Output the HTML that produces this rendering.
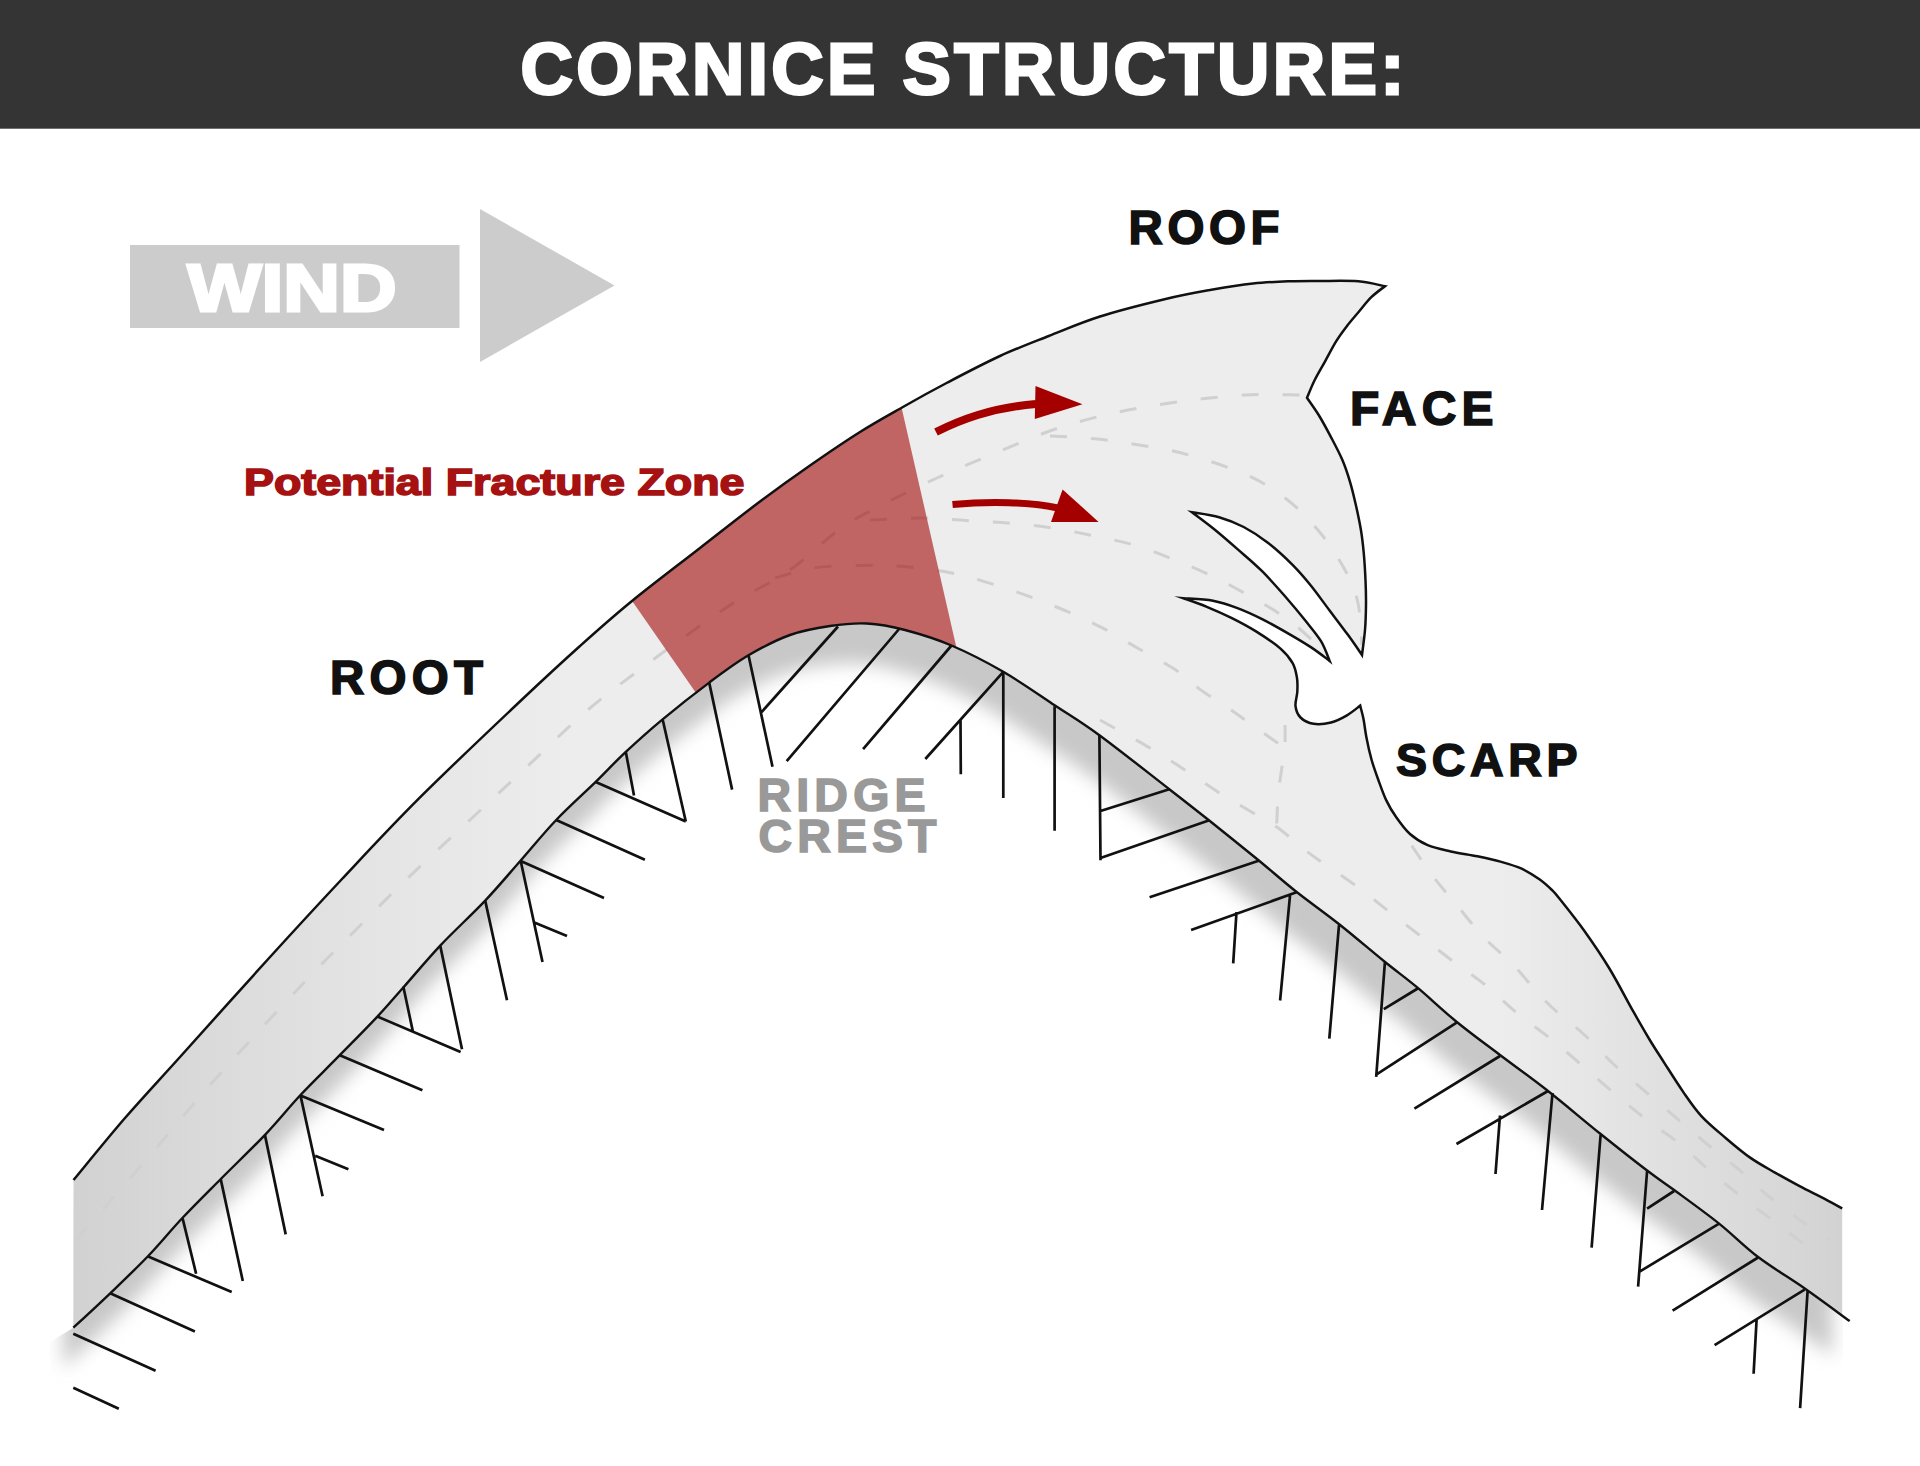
<!DOCTYPE html>
<html><head><meta charset="utf-8"><title>Cornice Structure</title>
<style>html,body{margin:0;padding:0;background:#fff;width:1920px;height:1466px;overflow:hidden;font-family:"Liberation Sans",sans-serif}svg{display:block}</style>
</head><body>
<svg width="1920" height="1466" viewBox="0 0 1920 1466">
<defs>
<clipPath id="snowclip"><path d="M73.5 1180 C82.1 1169.7 107.2 1138.5 125 1118 C142.8 1097.5 156.3 1083.3 180 1057 C203.7 1030.7 240.3 989.7 267.3 960 C294.3 930.3 316.6 906.1 342 879 C367.4 851.9 390.1 827.2 420 797.4 C449.9 767.6 494.8 725.2 521.5 700 C548.2 674.8 561.6 662.5 580 646 C598.4 629.5 612 617.3 632 601 C652 584.7 678.7 564.6 700 548 C721.3 531.4 741.7 515.2 760 501.5 C778.3 487.8 793.3 477.1 810 465.5 C826.7 453.9 844.4 441.8 860 432 C875.6 422.2 889.2 414.8 903.8 406.5 C918.3 398.2 931.5 390.9 947.5 382.5 C963.5 374.1 983.1 363.8 1000 356 C1016.9 348.2 1032 342.6 1048.7 336 C1065.4 329.4 1080.5 322.7 1100 316.5 C1119.5 310.3 1147.3 303.4 1165.6 299 C1183.9 294.6 1195.4 292.6 1210 290 C1224.6 287.4 1239.7 284.9 1253 283.5 C1266.3 282.1 1279 281.7 1290 281.3 C1301 280.9 1307.4 281 1318.8 281 C1330.2 281 1347.2 280.4 1358.2 281.3 C1369.2 282.2 1380.5 285.4 1385 286.2 C1382.7 288 1375.8 292.8 1371.3 297.2 C1366.8 301.6 1362.2 307.8 1358.2 312.5 C1354.2 317.2 1350.9 320.9 1347.3 325.6 C1343.7 330.3 1340 335.1 1336.4 340.9 C1332.8 346.7 1329.1 354 1325.5 360.6 C1321.9 367.2 1317.7 374.1 1314.6 380.3 C1311.5 386.5 1308.3 394.9 1307 397.8 C1309 400.8 1315.1 409.1 1319 415.5 C1322.9 421.9 1326.7 429 1330.6 436.4 C1334.5 443.8 1338.9 451.9 1342.2 459.6 C1345.5 467.3 1348 475.1 1350.3 482.8 C1352.6 490.5 1354.3 498.3 1356.1 506 C1357.8 513.7 1359.5 521.5 1360.8 529.2 C1362.1 536.9 1362.9 543.9 1363.7 552.4 C1364.5 560.9 1365.1 571.2 1365.5 580 C1365.9 588.8 1366.1 596.7 1366 605 C1365.9 613.3 1365.7 621.7 1365 630 C1364.3 638.3 1362.5 650.8 1362 655 C1359.7 651.7 1353.5 642.5 1348.1 635.1 C1342.7 627.7 1335.8 618.7 1329.6 610.5 C1323.4 602.3 1317.3 593.6 1311.2 586 C1305.1 578.4 1300 572.3 1292.8 565.1 C1285.6 557.9 1276.4 549.4 1268.2 543 C1260 536.6 1251.9 531.3 1243.7 527 C1235.5 522.7 1227.7 519.7 1219.1 517.2 C1210.5 514.8 1196.5 513.1 1192 512.3 C1195.5 514.9 1205.4 522.1 1213 528.2 C1220.6 534.3 1229.3 541.9 1237.5 549.1 C1245.7 556.3 1253.9 563 1262.1 571.2 C1270.3 579.4 1279.5 590 1286.7 598.2 C1293.9 606.4 1299.4 613.1 1305.1 620.3 C1310.8 627.5 1316.9 634.4 1321 641.2 C1325.1 648 1328.2 657.6 1329.6 660.9 C1326.5 658.6 1318.3 652.1 1311.2 647.4 C1304.1 642.7 1294.9 637.3 1286.7 632.6 C1278.5 627.9 1270.3 623.2 1262.1 619.1 C1253.9 615 1245.7 611.2 1237.5 608.1 C1229.3 605 1222 602.4 1213 600.7 C1204 599.1 1188.4 598.6 1183.5 598.2 C1187.4 599.6 1198.8 603.5 1206.8 606.8 C1214.8 610.1 1223.2 613.8 1231.4 617.9 C1239.6 622 1247.8 626.3 1256 631.4 C1264.2 636.5 1274.4 643.3 1280.5 648.6 C1286.6 653.9 1290 658.4 1292.8 663.3 C1295.5 668.2 1296.2 673.2 1297 678 C1297.8 682.8 1297.5 687.3 1297.3 692 C1297 696.7 1295 701.8 1295.5 706 C1296 710.2 1297.5 714.5 1300.5 717.5 C1303.5 720.5 1308.4 723 1313.5 723.8 C1318.6 724.6 1325.4 723.9 1331 722.5 C1336.6 721.1 1342.1 718.1 1347 715.3 C1351.9 712.5 1358 707.2 1360.2 705.6 C1360.7 707.8 1362.3 713.2 1363.4 718.6 C1364.5 724 1365.2 731.4 1366.6 738.2 C1367.9 745 1369.6 752.7 1371.5 759.5 C1373.4 766.3 1375.6 772.4 1378.1 779.2 C1380.6 786 1383.3 794.1 1386.3 800.4 C1389.3 806.7 1392.1 811.4 1396.1 817 C1400 822.6 1404.7 829.3 1410 834 C1415.3 838.7 1420.9 842.3 1427.7 845.2 C1434.5 848.1 1442.5 849.6 1450.8 851.5 C1459.1 853.4 1469.1 854.6 1477.4 856.3 C1485.7 858 1493 859.5 1500.4 861.6 C1507.8 863.7 1515.2 865.8 1521.7 868.7 C1528.2 871.7 1534.4 875.8 1539.4 879.3 C1544.4 882.8 1548.5 886.7 1551.9 890 C1555.3 893.3 1554.5 892.4 1560 899.3 C1565.5 906.2 1576.4 919.8 1584.6 931.2 C1592.8 942.7 1600.9 954.5 1609.1 968 C1617.3 981.5 1626.9 1000.2 1633.7 1012.2 C1640.5 1024.2 1644.7 1031.5 1649.8 1040 C1654.9 1048.5 1659.1 1054.7 1664.6 1063.3 C1670.1 1071.9 1676.9 1082.8 1683 1091.6 C1689.1 1100.4 1694.2 1108.3 1701.4 1116.1 C1708.6 1123.9 1717.7 1131.2 1725.9 1138.2 C1734.1 1145.2 1742.3 1152.2 1750.5 1157.9 C1758.7 1163.6 1766.8 1167.9 1775 1172.6 C1783.2 1177.3 1791.4 1181.8 1799.6 1186.1 C1807.8 1190.4 1817.1 1194.9 1824.2 1198.6 C1831.3 1202.3 1839.2 1206.8 1842.2 1208.5 L1842.2 1315.5 C1836.1 1311.1 1819.5 1298.8 1805.5 1289 C1791.5 1279.2 1772.5 1267.9 1758.1 1257 C1743.7 1246.1 1733.1 1234.8 1719.1 1223.6 C1705.1 1212.4 1686.1 1198.8 1674.1 1190 C1662.1 1181.2 1659.3 1179.8 1647.1 1170.5 C1634.8 1161.2 1617.1 1147.2 1600.6 1134 C1584.1 1120.8 1564.8 1104.2 1548 1091 C1531.2 1077.8 1515.2 1066.5 1500 1055 C1484.8 1043.5 1470.3 1033 1456.5 1021.7 C1442.7 1010.4 1429.2 997.4 1417.2 987.4 C1405.2 977.4 1397.4 972 1384.4 961.5 C1371.5 951 1354.2 936.2 1339.5 924.5 C1324.8 912.8 1309.8 902.4 1296 891.5 C1282.2 880.6 1271.6 870.9 1257 859 C1242.4 847.1 1223.2 831.6 1208.6 820 C1194 808.4 1187.5 803.3 1169.3 789.2 C1151.1 775.1 1118.5 749.2 1099.4 735.2 C1080.3 721.2 1070.6 715.8 1054.6 705.2 C1038.6 694.6 1020.5 681.8 1003.3 671.8 C986.1 661.8 967.9 652.5 951.5 645.5 C935.1 638.5 919.1 633.7 905 630 C890.9 626.3 879.5 624.2 867 623.5 C854.5 622.8 842.8 624.1 830 626 C817.2 627.9 803.6 630.1 790 635 C776.4 639.9 762 647.4 748.5 655.3 C735 663.2 723.5 671.9 709.2 682.6 C694.9 693.3 676.5 707.8 662.6 719.3 C648.7 730.8 636.9 741.5 625.8 751.9 C614.6 762.3 607.3 770.5 595.7 781.9 C584.1 793.2 568.7 806.9 556.2 820 C543.7 833.1 532.5 847.1 520.7 860.5 C508.9 873.9 498.6 886.4 485.2 900.6 C471.8 914.8 453.8 931.1 440.2 945.6 C426.6 960.1 413.8 975.7 403.3 987.5 C392.8 999.3 388.2 1005.1 377.4 1016.6 C366.6 1028.1 351.1 1043.6 338.3 1056.7 C325.5 1069.8 312.6 1082.1 300.5 1095 C288.4 1107.9 278.7 1120.4 265.5 1134.3 C252.3 1148.2 235.1 1164.6 221.3 1178.5 C207.5 1192.4 194.8 1204.9 182.6 1217.8 C170.4 1230.7 160.3 1243.4 148.2 1256 C136.1 1268.6 122.7 1281.3 110.2 1293.3 C97.7 1305.2 79.5 1322 73.3 1327.7 Z"/></clipPath>
<clipPath id="rockclip"><path d="M50 1342 L73.3 1327.7 C79.5 1322 97.7 1305.2 110.2 1293.3 C122.7 1281.3 136.1 1268.6 148.2 1256 C160.3 1243.4 170.4 1230.7 182.6 1217.8 C194.8 1204.9 207.5 1192.4 221.3 1178.5 C235.1 1164.6 252.3 1148.2 265.5 1134.3 C278.7 1120.4 288.4 1107.9 300.5 1095 C312.6 1082.1 325.5 1069.8 338.3 1056.7 C351.1 1043.6 366.6 1028.1 377.4 1016.6 C388.2 1005.1 392.8 999.3 403.3 987.5 C413.8 975.7 426.6 960.1 440.2 945.6 C453.8 931.1 471.8 914.8 485.2 900.6 C498.6 886.4 508.9 873.9 520.7 860.5 C532.5 847.1 543.7 833.1 556.2 820 C568.7 806.9 584.1 793.2 595.7 781.9 C607.3 770.5 614.6 762.3 625.8 751.9 C636.9 741.5 648.7 730.8 662.6 719.3 C676.5 707.8 694.9 693.3 709.2 682.6 C723.5 671.9 735 663.2 748.5 655.3 C762 647.4 776.4 639.9 790 635 C803.6 630.1 817.2 627.9 830 626 C842.8 624.1 854.5 622.8 867 623.5 C879.5 624.2 890.9 626.3 905 630 C919.1 633.7 935.1 638.5 951.5 645.5 C967.9 652.5 986.1 661.8 1003.3 671.8 C1020.5 681.8 1038.6 694.6 1054.6 705.2 C1070.6 715.8 1080.3 721.2 1099.4 735.2 C1118.5 749.2 1151.1 775.1 1169.3 789.2 C1187.5 803.3 1194 808.4 1208.6 820 C1223.2 831.6 1242.4 847.1 1257 859 C1271.6 870.9 1282.2 880.6 1296 891.5 C1309.8 902.4 1324.8 912.8 1339.5 924.5 C1354.2 936.2 1371.5 951 1384.4 961.5 C1397.4 972 1405.2 977.4 1417.2 987.4 C1429.2 997.4 1442.7 1010.4 1456.5 1021.7 C1470.3 1033 1484.8 1043.5 1500 1055 C1515.2 1066.5 1531.2 1077.8 1548 1091 C1564.8 1104.2 1584.1 1120.8 1600.6 1134 C1617.1 1147.2 1634.8 1161.2 1647.1 1170.5 C1659.3 1179.8 1662.1 1181.2 1674.1 1190 C1686.1 1198.8 1705.1 1212.4 1719.1 1223.6 C1733.1 1234.8 1743.7 1246.1 1758.1 1257 C1772.5 1267.9 1790.2 1278.3 1805.5 1289 C1820.8 1299.7 1842.3 1315.8 1849.7 1321.1 L1843 1316 L1843 1600 L50 1600 Z"/></clipPath>
<filter id="blur12" x="-10%" y="-10%" width="120%" height="120%"><feGaussianBlur stdDeviation="9"/></filter>
<linearGradient id="snowgrad" x1="0" y1="0" x2="1920" y2="0" gradientUnits="userSpaceOnUse">
<stop offset="0.035" stop-color="#d1d1d1"/>
<stop offset="0.1" stop-color="#d9d9d9"/>
<stop offset="0.2" stop-color="#e5e5e5"/>
<stop offset="0.3" stop-color="#ededed"/>
<stop offset="0.78" stop-color="#ededed"/>
<stop offset="0.86" stop-color="#e1e1e1"/>
<stop offset="0.92" stop-color="#d9d9d9"/>
<stop offset="0.96" stop-color="#d2d2d2"/>
</linearGradient>
</defs>
<rect width="1920" height="1466" fill="#fff"/>
<rect width="1920" height="128.7" fill="#343434"/>
<text x="520.5" y="93.8" font-family="Liberation Sans, sans-serif" font-weight="bold" font-size="72.5" fill="#fff" stroke="#fff" stroke-width="2.8" textLength="884" lengthAdjust="spacing">CORNICE STRUCTURE:</text>
<rect x="130" y="245" width="329.5" height="83" fill="#cccccc"/>
<path d="M480 209 L614.5 285.5 L480 362 Z" fill="#cccccc"/>
<text x="187.5" y="310.5" font-family="Liberation Sans, sans-serif" font-weight="bold" font-size="67" fill="#fff" stroke="#fff" stroke-width="3" textLength="209" lengthAdjust="spacingAndGlyphs">WIND</text>
<g clip-path="url(#rockclip)"><path d="M73.5 1180 C82.1 1169.7 107.2 1138.5 125 1118 C142.8 1097.5 156.3 1083.3 180 1057 C203.7 1030.7 240.3 989.7 267.3 960 C294.3 930.3 316.6 906.1 342 879 C367.4 851.9 390.1 827.2 420 797.4 C449.9 767.6 494.8 725.2 521.5 700 C548.2 674.8 561.6 662.5 580 646 C598.4 629.5 612 617.3 632 601 C652 584.7 678.7 564.6 700 548 C721.3 531.4 741.7 515.2 760 501.5 C778.3 487.8 793.3 477.1 810 465.5 C826.7 453.9 844.4 441.8 860 432 C875.6 422.2 889.2 414.8 903.8 406.5 C918.3 398.2 931.5 390.9 947.5 382.5 C963.5 374.1 983.1 363.8 1000 356 C1016.9 348.2 1032 342.6 1048.7 336 C1065.4 329.4 1080.5 322.7 1100 316.5 C1119.5 310.3 1147.3 303.4 1165.6 299 C1183.9 294.6 1195.4 292.6 1210 290 C1224.6 287.4 1239.7 284.9 1253 283.5 C1266.3 282.1 1279 281.7 1290 281.3 C1301 280.9 1307.4 281 1318.8 281 C1330.2 281 1347.2 280.4 1358.2 281.3 C1369.2 282.2 1380.5 285.4 1385 286.2 C1382.7 288 1375.8 292.8 1371.3 297.2 C1366.8 301.6 1362.2 307.8 1358.2 312.5 C1354.2 317.2 1350.9 320.9 1347.3 325.6 C1343.7 330.3 1340 335.1 1336.4 340.9 C1332.8 346.7 1329.1 354 1325.5 360.6 C1321.9 367.2 1317.7 374.1 1314.6 380.3 C1311.5 386.5 1308.3 394.9 1307 397.8 C1309 400.8 1315.1 409.1 1319 415.5 C1322.9 421.9 1326.7 429 1330.6 436.4 C1334.5 443.8 1338.9 451.9 1342.2 459.6 C1345.5 467.3 1348 475.1 1350.3 482.8 C1352.6 490.5 1354.3 498.3 1356.1 506 C1357.8 513.7 1359.5 521.5 1360.8 529.2 C1362.1 536.9 1362.9 543.9 1363.7 552.4 C1364.5 560.9 1365.1 571.2 1365.5 580 C1365.9 588.8 1366.1 596.7 1366 605 C1365.9 613.3 1365.7 621.7 1365 630 C1364.3 638.3 1362.5 650.8 1362 655 C1359.7 651.7 1353.5 642.5 1348.1 635.1 C1342.7 627.7 1335.8 618.7 1329.6 610.5 C1323.4 602.3 1317.3 593.6 1311.2 586 C1305.1 578.4 1300 572.3 1292.8 565.1 C1285.6 557.9 1276.4 549.4 1268.2 543 C1260 536.6 1251.9 531.3 1243.7 527 C1235.5 522.7 1227.7 519.7 1219.1 517.2 C1210.5 514.8 1196.5 513.1 1192 512.3 C1195.5 514.9 1205.4 522.1 1213 528.2 C1220.6 534.3 1229.3 541.9 1237.5 549.1 C1245.7 556.3 1253.9 563 1262.1 571.2 C1270.3 579.4 1279.5 590 1286.7 598.2 C1293.9 606.4 1299.4 613.1 1305.1 620.3 C1310.8 627.5 1316.9 634.4 1321 641.2 C1325.1 648 1328.2 657.6 1329.6 660.9 C1326.5 658.6 1318.3 652.1 1311.2 647.4 C1304.1 642.7 1294.9 637.3 1286.7 632.6 C1278.5 627.9 1270.3 623.2 1262.1 619.1 C1253.9 615 1245.7 611.2 1237.5 608.1 C1229.3 605 1222 602.4 1213 600.7 C1204 599.1 1188.4 598.6 1183.5 598.2 C1187.4 599.6 1198.8 603.5 1206.8 606.8 C1214.8 610.1 1223.2 613.8 1231.4 617.9 C1239.6 622 1247.8 626.3 1256 631.4 C1264.2 636.5 1274.4 643.3 1280.5 648.6 C1286.6 653.9 1290 658.4 1292.8 663.3 C1295.5 668.2 1296.2 673.2 1297 678 C1297.8 682.8 1297.5 687.3 1297.3 692 C1297 696.7 1295 701.8 1295.5 706 C1296 710.2 1297.5 714.5 1300.5 717.5 C1303.5 720.5 1308.4 723 1313.5 723.8 C1318.6 724.6 1325.4 723.9 1331 722.5 C1336.6 721.1 1342.1 718.1 1347 715.3 C1351.9 712.5 1358 707.2 1360.2 705.6 C1360.7 707.8 1362.3 713.2 1363.4 718.6 C1364.5 724 1365.2 731.4 1366.6 738.2 C1367.9 745 1369.6 752.7 1371.5 759.5 C1373.4 766.3 1375.6 772.4 1378.1 779.2 C1380.6 786 1383.3 794.1 1386.3 800.4 C1389.3 806.7 1392.1 811.4 1396.1 817 C1400 822.6 1404.7 829.3 1410 834 C1415.3 838.7 1420.9 842.3 1427.7 845.2 C1434.5 848.1 1442.5 849.6 1450.8 851.5 C1459.1 853.4 1469.1 854.6 1477.4 856.3 C1485.7 858 1493 859.5 1500.4 861.6 C1507.8 863.7 1515.2 865.8 1521.7 868.7 C1528.2 871.7 1534.4 875.8 1539.4 879.3 C1544.4 882.8 1548.5 886.7 1551.9 890 C1555.3 893.3 1554.5 892.4 1560 899.3 C1565.5 906.2 1576.4 919.8 1584.6 931.2 C1592.8 942.7 1600.9 954.5 1609.1 968 C1617.3 981.5 1626.9 1000.2 1633.7 1012.2 C1640.5 1024.2 1644.7 1031.5 1649.8 1040 C1654.9 1048.5 1659.1 1054.7 1664.6 1063.3 C1670.1 1071.9 1676.9 1082.8 1683 1091.6 C1689.1 1100.4 1694.2 1108.3 1701.4 1116.1 C1708.6 1123.9 1717.7 1131.2 1725.9 1138.2 C1734.1 1145.2 1742.3 1152.2 1750.5 1157.9 C1758.7 1163.6 1766.8 1167.9 1775 1172.6 C1783.2 1177.3 1791.4 1181.8 1799.6 1186.1 C1807.8 1190.4 1817.1 1194.9 1824.2 1198.6 C1831.3 1202.3 1839.2 1206.8 1842.2 1208.5 L1842.2 1315.5 C1836.1 1311.1 1819.5 1298.8 1805.5 1289 C1791.5 1279.2 1772.5 1267.9 1758.1 1257 C1743.7 1246.1 1733.1 1234.8 1719.1 1223.6 C1705.1 1212.4 1686.1 1198.8 1674.1 1190 C1662.1 1181.2 1659.3 1179.8 1647.1 1170.5 C1634.8 1161.2 1617.1 1147.2 1600.6 1134 C1584.1 1120.8 1564.8 1104.2 1548 1091 C1531.2 1077.8 1515.2 1066.5 1500 1055 C1484.8 1043.5 1470.3 1033 1456.5 1021.7 C1442.7 1010.4 1429.2 997.4 1417.2 987.4 C1405.2 977.4 1397.4 972 1384.4 961.5 C1371.5 951 1354.2 936.2 1339.5 924.5 C1324.8 912.8 1309.8 902.4 1296 891.5 C1282.2 880.6 1271.6 870.9 1257 859 C1242.4 847.1 1223.2 831.6 1208.6 820 C1194 808.4 1187.5 803.3 1169.3 789.2 C1151.1 775.1 1118.5 749.2 1099.4 735.2 C1080.3 721.2 1070.6 715.8 1054.6 705.2 C1038.6 694.6 1020.5 681.8 1003.3 671.8 C986.1 661.8 967.9 652.5 951.5 645.5 C935.1 638.5 919.1 633.7 905 630 C890.9 626.3 879.5 624.2 867 623.5 C854.5 622.8 842.8 624.1 830 626 C817.2 627.9 803.6 630.1 790 635 C776.4 639.9 762 647.4 748.5 655.3 C735 663.2 723.5 671.9 709.2 682.6 C694.9 693.3 676.5 707.8 662.6 719.3 C648.7 730.8 636.9 741.5 625.8 751.9 C614.6 762.3 607.3 770.5 595.7 781.9 C584.1 793.2 568.7 806.9 556.2 820 C543.7 833.1 532.5 847.1 520.7 860.5 C508.9 873.9 498.6 886.4 485.2 900.6 C471.8 914.8 453.8 931.1 440.2 945.6 C426.6 960.1 413.8 975.7 403.3 987.5 C392.8 999.3 388.2 1005.1 377.4 1016.6 C366.6 1028.1 351.1 1043.6 338.3 1056.7 C325.5 1069.8 312.6 1082.1 300.5 1095 C288.4 1107.9 278.7 1120.4 265.5 1134.3 C252.3 1148.2 235.1 1164.6 221.3 1178.5 C207.5 1192.4 194.8 1204.9 182.6 1217.8 C170.4 1230.7 160.3 1243.4 148.2 1256 C136.1 1268.6 122.7 1281.3 110.2 1293.3 C97.7 1305.2 79.5 1322 73.3 1327.7 Z" fill="#c8c8c8" transform="translate(-10,40)" filter="url(#blur12)"/></g>
<path d="M73.5 1180 C82.1 1169.7 107.2 1138.5 125 1118 C142.8 1097.5 156.3 1083.3 180 1057 C203.7 1030.7 240.3 989.7 267.3 960 C294.3 930.3 316.6 906.1 342 879 C367.4 851.9 390.1 827.2 420 797.4 C449.9 767.6 494.8 725.2 521.5 700 C548.2 674.8 561.6 662.5 580 646 C598.4 629.5 612 617.3 632 601 C652 584.7 678.7 564.6 700 548 C721.3 531.4 741.7 515.2 760 501.5 C778.3 487.8 793.3 477.1 810 465.5 C826.7 453.9 844.4 441.8 860 432 C875.6 422.2 889.2 414.8 903.8 406.5 C918.3 398.2 931.5 390.9 947.5 382.5 C963.5 374.1 983.1 363.8 1000 356 C1016.9 348.2 1032 342.6 1048.7 336 C1065.4 329.4 1080.5 322.7 1100 316.5 C1119.5 310.3 1147.3 303.4 1165.6 299 C1183.9 294.6 1195.4 292.6 1210 290 C1224.6 287.4 1239.7 284.9 1253 283.5 C1266.3 282.1 1279 281.7 1290 281.3 C1301 280.9 1307.4 281 1318.8 281 C1330.2 281 1347.2 280.4 1358.2 281.3 C1369.2 282.2 1380.5 285.4 1385 286.2 C1382.7 288 1375.8 292.8 1371.3 297.2 C1366.8 301.6 1362.2 307.8 1358.2 312.5 C1354.2 317.2 1350.9 320.9 1347.3 325.6 C1343.7 330.3 1340 335.1 1336.4 340.9 C1332.8 346.7 1329.1 354 1325.5 360.6 C1321.9 367.2 1317.7 374.1 1314.6 380.3 C1311.5 386.5 1308.3 394.9 1307 397.8 C1309 400.8 1315.1 409.1 1319 415.5 C1322.9 421.9 1326.7 429 1330.6 436.4 C1334.5 443.8 1338.9 451.9 1342.2 459.6 C1345.5 467.3 1348 475.1 1350.3 482.8 C1352.6 490.5 1354.3 498.3 1356.1 506 C1357.8 513.7 1359.5 521.5 1360.8 529.2 C1362.1 536.9 1362.9 543.9 1363.7 552.4 C1364.5 560.9 1365.1 571.2 1365.5 580 C1365.9 588.8 1366.1 596.7 1366 605 C1365.9 613.3 1365.7 621.7 1365 630 C1364.3 638.3 1362.5 650.8 1362 655 C1359.7 651.7 1353.5 642.5 1348.1 635.1 C1342.7 627.7 1335.8 618.7 1329.6 610.5 C1323.4 602.3 1317.3 593.6 1311.2 586 C1305.1 578.4 1300 572.3 1292.8 565.1 C1285.6 557.9 1276.4 549.4 1268.2 543 C1260 536.6 1251.9 531.3 1243.7 527 C1235.5 522.7 1227.7 519.7 1219.1 517.2 C1210.5 514.8 1196.5 513.1 1192 512.3 C1195.5 514.9 1205.4 522.1 1213 528.2 C1220.6 534.3 1229.3 541.9 1237.5 549.1 C1245.7 556.3 1253.9 563 1262.1 571.2 C1270.3 579.4 1279.5 590 1286.7 598.2 C1293.9 606.4 1299.4 613.1 1305.1 620.3 C1310.8 627.5 1316.9 634.4 1321 641.2 C1325.1 648 1328.2 657.6 1329.6 660.9 C1326.5 658.6 1318.3 652.1 1311.2 647.4 C1304.1 642.7 1294.9 637.3 1286.7 632.6 C1278.5 627.9 1270.3 623.2 1262.1 619.1 C1253.9 615 1245.7 611.2 1237.5 608.1 C1229.3 605 1222 602.4 1213 600.7 C1204 599.1 1188.4 598.6 1183.5 598.2 C1187.4 599.6 1198.8 603.5 1206.8 606.8 C1214.8 610.1 1223.2 613.8 1231.4 617.9 C1239.6 622 1247.8 626.3 1256 631.4 C1264.2 636.5 1274.4 643.3 1280.5 648.6 C1286.6 653.9 1290 658.4 1292.8 663.3 C1295.5 668.2 1296.2 673.2 1297 678 C1297.8 682.8 1297.5 687.3 1297.3 692 C1297 696.7 1295 701.8 1295.5 706 C1296 710.2 1297.5 714.5 1300.5 717.5 C1303.5 720.5 1308.4 723 1313.5 723.8 C1318.6 724.6 1325.4 723.9 1331 722.5 C1336.6 721.1 1342.1 718.1 1347 715.3 C1351.9 712.5 1358 707.2 1360.2 705.6 C1360.7 707.8 1362.3 713.2 1363.4 718.6 C1364.5 724 1365.2 731.4 1366.6 738.2 C1367.9 745 1369.6 752.7 1371.5 759.5 C1373.4 766.3 1375.6 772.4 1378.1 779.2 C1380.6 786 1383.3 794.1 1386.3 800.4 C1389.3 806.7 1392.1 811.4 1396.1 817 C1400 822.6 1404.7 829.3 1410 834 C1415.3 838.7 1420.9 842.3 1427.7 845.2 C1434.5 848.1 1442.5 849.6 1450.8 851.5 C1459.1 853.4 1469.1 854.6 1477.4 856.3 C1485.7 858 1493 859.5 1500.4 861.6 C1507.8 863.7 1515.2 865.8 1521.7 868.7 C1528.2 871.7 1534.4 875.8 1539.4 879.3 C1544.4 882.8 1548.5 886.7 1551.9 890 C1555.3 893.3 1554.5 892.4 1560 899.3 C1565.5 906.2 1576.4 919.8 1584.6 931.2 C1592.8 942.7 1600.9 954.5 1609.1 968 C1617.3 981.5 1626.9 1000.2 1633.7 1012.2 C1640.5 1024.2 1644.7 1031.5 1649.8 1040 C1654.9 1048.5 1659.1 1054.7 1664.6 1063.3 C1670.1 1071.9 1676.9 1082.8 1683 1091.6 C1689.1 1100.4 1694.2 1108.3 1701.4 1116.1 C1708.6 1123.9 1717.7 1131.2 1725.9 1138.2 C1734.1 1145.2 1742.3 1152.2 1750.5 1157.9 C1758.7 1163.6 1766.8 1167.9 1775 1172.6 C1783.2 1177.3 1791.4 1181.8 1799.6 1186.1 C1807.8 1190.4 1817.1 1194.9 1824.2 1198.6 C1831.3 1202.3 1839.2 1206.8 1842.2 1208.5 L1842.2 1315.5 C1836.1 1311.1 1819.5 1298.8 1805.5 1289 C1791.5 1279.2 1772.5 1267.9 1758.1 1257 C1743.7 1246.1 1733.1 1234.8 1719.1 1223.6 C1705.1 1212.4 1686.1 1198.8 1674.1 1190 C1662.1 1181.2 1659.3 1179.8 1647.1 1170.5 C1634.8 1161.2 1617.1 1147.2 1600.6 1134 C1584.1 1120.8 1564.8 1104.2 1548 1091 C1531.2 1077.8 1515.2 1066.5 1500 1055 C1484.8 1043.5 1470.3 1033 1456.5 1021.7 C1442.7 1010.4 1429.2 997.4 1417.2 987.4 C1405.2 977.4 1397.4 972 1384.4 961.5 C1371.5 951 1354.2 936.2 1339.5 924.5 C1324.8 912.8 1309.8 902.4 1296 891.5 C1282.2 880.6 1271.6 870.9 1257 859 C1242.4 847.1 1223.2 831.6 1208.6 820 C1194 808.4 1187.5 803.3 1169.3 789.2 C1151.1 775.1 1118.5 749.2 1099.4 735.2 C1080.3 721.2 1070.6 715.8 1054.6 705.2 C1038.6 694.6 1020.5 681.8 1003.3 671.8 C986.1 661.8 967.9 652.5 951.5 645.5 C935.1 638.5 919.1 633.7 905 630 C890.9 626.3 879.5 624.2 867 623.5 C854.5 622.8 842.8 624.1 830 626 C817.2 627.9 803.6 630.1 790 635 C776.4 639.9 762 647.4 748.5 655.3 C735 663.2 723.5 671.9 709.2 682.6 C694.9 693.3 676.5 707.8 662.6 719.3 C648.7 730.8 636.9 741.5 625.8 751.9 C614.6 762.3 607.3 770.5 595.7 781.9 C584.1 793.2 568.7 806.9 556.2 820 C543.7 833.1 532.5 847.1 520.7 860.5 C508.9 873.9 498.6 886.4 485.2 900.6 C471.8 914.8 453.8 931.1 440.2 945.6 C426.6 960.1 413.8 975.7 403.3 987.5 C392.8 999.3 388.2 1005.1 377.4 1016.6 C366.6 1028.1 351.1 1043.6 338.3 1056.7 C325.5 1069.8 312.6 1082.1 300.5 1095 C288.4 1107.9 278.7 1120.4 265.5 1134.3 C252.3 1148.2 235.1 1164.6 221.3 1178.5 C207.5 1192.4 194.8 1204.9 182.6 1217.8 C170.4 1230.7 160.3 1243.4 148.2 1256 C136.1 1268.6 122.7 1281.3 110.2 1293.3 C97.7 1305.2 79.5 1322 73.3 1327.7 Z" fill="url(#snowgrad)"/>
<path d="M76 1240 C87.7 1226.7 124.8 1184.5 146 1160 C167.2 1135.5 184.2 1114.4 203 1093 C221.8 1071.6 239.7 1051.9 258.5 1031.4 C277.3 1010.9 301.3 985.4 316 970 C330.7 954.6 332 953.8 346.5 939.3 C361 924.8 382.7 902.2 402.8 882.8 C422.9 863.4 446 842.3 466.9 822.8 C487.8 803.2 508 784.5 528.3 765.5 C548.6 746.5 568.6 726.2 588.9 709 C609.2 691.8 633.1 674.7 650 662 C666.9 649.3 675.8 643 690 633 C704.2 623 718.3 612.5 735 602 C751.7 591.5 772.5 582.2 790 570 C807.5 557.8 825 539.7 840 529 C855 518.3 863.8 514.5 880 506 C896.2 497.5 917.8 486.8 937 478 C956.2 469.2 974.9 461.6 995 453.3 C1015.1 445 1036.7 435.2 1057.5 428.3 C1078.3 421.4 1099.2 416.2 1120 411.7 C1140.8 407.2 1161.7 404.1 1182.5 401.3 C1203.3 398.5 1225.4 396.1 1245 395 C1264.6 393.9 1290.8 395 1300 395 M1050 436 C1055.8 436.3 1073.3 437 1085 438 C1096.7 439 1103.8 439.4 1120 442 C1136.2 444.6 1161.7 447.9 1182.5 453.3 C1203.3 458.7 1227.6 466.6 1245 474.2 C1262.4 481.8 1274.2 489.5 1286.7 499.2 C1299.2 508.9 1310.3 520.7 1320 532.5 C1329.7 544.3 1338.7 558.2 1345 570 C1351.3 581.8 1355.2 590.5 1358 603 C1360.8 615.5 1361.3 638 1362 645 M870 520 C878.6 519.7 905.7 517.9 921.7 518 C937.7 518.1 951.1 519.7 965.9 520.6 C980.6 521.5 995.4 521.9 1010.2 523.2 C1025 524.5 1040.2 526.2 1054.5 528.4 C1068.8 530.6 1082.6 533.5 1096.1 536.3 C1109.5 539.1 1122.2 541.5 1135.2 545.4 C1148.2 549.3 1161.3 554.5 1174.3 559.7 C1187.3 564.9 1200.7 570.5 1213.3 576.6 C1225.9 582.7 1237.6 589.2 1249.8 596.1 C1262 603 1275.9 610.9 1286.3 618.3 C1296.7 625.7 1305.7 634.1 1312.3 640.4 C1318.9 646.7 1323.7 653.4 1326 656 M775 578 C781.5 576.3 800 569.9 814 567.8 C828 565.7 844.5 565.8 859 565.5 C873.5 565.2 885.6 565 900.8 566.2 C916 567.4 935.5 569.9 950.3 572.7 C965.1 575.5 976.4 579.2 989.4 583.1 C1002.4 587 1015.8 591.5 1028.4 596.1 C1041 600.7 1052.7 605.3 1064.9 610.5 C1077.1 615.7 1089.2 621.1 1101.4 627.4 C1113.6 633.7 1125.7 641.3 1137.8 648.2 C1149.9 655.1 1164 662.2 1174.3 669 C1184.6 675.8 1189.6 681.9 1199.6 689.1 C1209.5 696.3 1225.3 706 1234 712 C1242.7 718 1243.5 719 1252 725 C1260.5 731 1279.3 744.2 1284.8 748 M1100 720 C1108.3 724.7 1135.6 739.5 1150 748 C1164.4 756.5 1174.7 763.4 1186.5 771 C1198.3 778.6 1209.2 786.5 1220.9 793.9 C1232.7 801.3 1247.5 809.5 1257 815.2 C1266.5 820.9 1270.3 822.3 1278.2 828 C1286.1 833.7 1296.9 843.8 1304.4 849.6 C1311.9 855.4 1314.3 856.9 1323 863 C1331.7 869.1 1345.8 878.4 1356.8 886.4 C1367.8 894.4 1378.1 903 1388.7 911.3 C1399.3 919.6 1410 927.8 1420.6 936.1 C1431.2 944.4 1441.6 952.6 1452.5 960.9 C1463.4 969.2 1475.2 976.8 1486.2 985.7 C1497.2 994.6 1507.4 1005.2 1518.2 1014.1 C1529 1023 1540.5 1030.6 1551 1039 C1561.5 1047.4 1570.5 1055.5 1581 1064.5 C1591.5 1073.5 1603 1083.8 1614 1093 C1625 1102.2 1636 1111.5 1647 1120 C1658 1128.5 1669.5 1135.5 1680 1144 C1690.5 1152.5 1699.5 1162 1710 1171 C1720.5 1180 1732.2 1189.5 1743 1198 C1753.8 1206.5 1764.7 1214.2 1775 1222 C1785.3 1229.8 1800 1241.2 1805 1245 M1411.7 845.6 C1415 850.3 1423.8 864.2 1431.2 874 C1438.6 883.8 1447.1 893.6 1456 904.2 C1464.9 914.9 1475 927.9 1484.5 937.9 C1494 947.9 1503.6 955 1512.8 964.5 C1522 974 1532 986.7 1539.4 994.6 C1546.8 1002.5 1549.6 1005.4 1557 1012 C1564.4 1018.6 1574.5 1025.8 1584 1034.5 C1593.5 1043.2 1603.5 1054.8 1614 1064.5 C1624.5 1074.2 1636.5 1084 1647 1093 C1657.5 1102 1667 1110 1677 1118.5 C1687 1127 1697 1135.8 1707 1144 C1717 1152.2 1727 1159.5 1737 1168 C1747 1176.5 1756.5 1186.3 1767 1195 C1777.5 1203.7 1789.5 1212.5 1800 1220 C1810.5 1227.5 1825 1236.7 1830 1240 M1285 725 C1285 728.8 1285.4 740.5 1284.8 748 C1284.2 755.5 1282.6 762.2 1281.5 770 C1280.4 777.8 1279 785.7 1278.2 795 C1277.4 804.3 1276.9 820.8 1276.6 826" fill="none" stroke="#d0d0d0" stroke-width="3" stroke-dasharray="17 24" clip-path="url(#snowclip)"/>
<path d="M612 572 L898 392 L962 672 L712 716 Z" fill="#a00000" fill-opacity="0.576" clip-path="url(#snowclip)"/>
<path d="M73.5 1180 C82.1 1169.7 107.2 1138.5 125 1118 C142.8 1097.5 156.3 1083.3 180 1057 C203.7 1030.7 240.3 989.7 267.3 960 C294.3 930.3 316.6 906.1 342 879 C367.4 851.9 390.1 827.2 420 797.4 C449.9 767.6 494.8 725.2 521.5 700 C548.2 674.8 561.6 662.5 580 646 C598.4 629.5 612 617.3 632 601 C652 584.7 678.7 564.6 700 548 C721.3 531.4 741.7 515.2 760 501.5 C778.3 487.8 793.3 477.1 810 465.5 C826.7 453.9 844.4 441.8 860 432 C875.6 422.2 889.2 414.8 903.8 406.5 C918.3 398.2 931.5 390.9 947.5 382.5 C963.5 374.1 983.1 363.8 1000 356 C1016.9 348.2 1032 342.6 1048.7 336 C1065.4 329.4 1080.5 322.7 1100 316.5 C1119.5 310.3 1147.3 303.4 1165.6 299 C1183.9 294.6 1195.4 292.6 1210 290 C1224.6 287.4 1239.7 284.9 1253 283.5 C1266.3 282.1 1279 281.7 1290 281.3 C1301 280.9 1307.4 281 1318.8 281 C1330.2 281 1347.2 280.4 1358.2 281.3 C1369.2 282.2 1380.5 285.4 1385 286.2 C1382.7 288 1375.8 292.8 1371.3 297.2 C1366.8 301.6 1362.2 307.8 1358.2 312.5 C1354.2 317.2 1350.9 320.9 1347.3 325.6 C1343.7 330.3 1340 335.1 1336.4 340.9 C1332.8 346.7 1329.1 354 1325.5 360.6 C1321.9 367.2 1317.7 374.1 1314.6 380.3 C1311.5 386.5 1308.3 394.9 1307 397.8 C1309 400.8 1315.1 409.1 1319 415.5 C1322.9 421.9 1326.7 429 1330.6 436.4 C1334.5 443.8 1338.9 451.9 1342.2 459.6 C1345.5 467.3 1348 475.1 1350.3 482.8 C1352.6 490.5 1354.3 498.3 1356.1 506 C1357.8 513.7 1359.5 521.5 1360.8 529.2 C1362.1 536.9 1362.9 543.9 1363.7 552.4 C1364.5 560.9 1365.1 571.2 1365.5 580 C1365.9 588.8 1366.1 596.7 1366 605 C1365.9 613.3 1365.7 621.7 1365 630 C1364.3 638.3 1362.5 650.8 1362 655 C1359.7 651.7 1353.5 642.5 1348.1 635.1 C1342.7 627.7 1335.8 618.7 1329.6 610.5 C1323.4 602.3 1317.3 593.6 1311.2 586 C1305.1 578.4 1300 572.3 1292.8 565.1 C1285.6 557.9 1276.4 549.4 1268.2 543 C1260 536.6 1251.9 531.3 1243.7 527 C1235.5 522.7 1227.7 519.7 1219.1 517.2 C1210.5 514.8 1196.5 513.1 1192 512.3 C1195.5 514.9 1205.4 522.1 1213 528.2 C1220.6 534.3 1229.3 541.9 1237.5 549.1 C1245.7 556.3 1253.9 563 1262.1 571.2 C1270.3 579.4 1279.5 590 1286.7 598.2 C1293.9 606.4 1299.4 613.1 1305.1 620.3 C1310.8 627.5 1316.9 634.4 1321 641.2 C1325.1 648 1328.2 657.6 1329.6 660.9 C1326.5 658.6 1318.3 652.1 1311.2 647.4 C1304.1 642.7 1294.9 637.3 1286.7 632.6 C1278.5 627.9 1270.3 623.2 1262.1 619.1 C1253.9 615 1245.7 611.2 1237.5 608.1 C1229.3 605 1222 602.4 1213 600.7 C1204 599.1 1188.4 598.6 1183.5 598.2 C1187.4 599.6 1198.8 603.5 1206.8 606.8 C1214.8 610.1 1223.2 613.8 1231.4 617.9 C1239.6 622 1247.8 626.3 1256 631.4 C1264.2 636.5 1274.4 643.3 1280.5 648.6 C1286.6 653.9 1290 658.4 1292.8 663.3 C1295.5 668.2 1296.2 673.2 1297 678 C1297.8 682.8 1297.5 687.3 1297.3 692 C1297 696.7 1295 701.8 1295.5 706 C1296 710.2 1297.5 714.5 1300.5 717.5 C1303.5 720.5 1308.4 723 1313.5 723.8 C1318.6 724.6 1325.4 723.9 1331 722.5 C1336.6 721.1 1342.1 718.1 1347 715.3 C1351.9 712.5 1358 707.2 1360.2 705.6 C1360.7 707.8 1362.3 713.2 1363.4 718.6 C1364.5 724 1365.2 731.4 1366.6 738.2 C1367.9 745 1369.6 752.7 1371.5 759.5 C1373.4 766.3 1375.6 772.4 1378.1 779.2 C1380.6 786 1383.3 794.1 1386.3 800.4 C1389.3 806.7 1392.1 811.4 1396.1 817 C1400 822.6 1404.7 829.3 1410 834 C1415.3 838.7 1420.9 842.3 1427.7 845.2 C1434.5 848.1 1442.5 849.6 1450.8 851.5 C1459.1 853.4 1469.1 854.6 1477.4 856.3 C1485.7 858 1493 859.5 1500.4 861.6 C1507.8 863.7 1515.2 865.8 1521.7 868.7 C1528.2 871.7 1534.4 875.8 1539.4 879.3 C1544.4 882.8 1548.5 886.7 1551.9 890 C1555.3 893.3 1554.5 892.4 1560 899.3 C1565.5 906.2 1576.4 919.8 1584.6 931.2 C1592.8 942.7 1600.9 954.5 1609.1 968 C1617.3 981.5 1626.9 1000.2 1633.7 1012.2 C1640.5 1024.2 1644.7 1031.5 1649.8 1040 C1654.9 1048.5 1659.1 1054.7 1664.6 1063.3 C1670.1 1071.9 1676.9 1082.8 1683 1091.6 C1689.1 1100.4 1694.2 1108.3 1701.4 1116.1 C1708.6 1123.9 1717.7 1131.2 1725.9 1138.2 C1734.1 1145.2 1742.3 1152.2 1750.5 1157.9 C1758.7 1163.6 1766.8 1167.9 1775 1172.6 C1783.2 1177.3 1791.4 1181.8 1799.6 1186.1 C1807.8 1190.4 1817.1 1194.9 1824.2 1198.6 C1831.3 1202.3 1839.2 1206.8 1842.2 1208.5" fill="none" stroke="#111" stroke-width="2.5" stroke-linejoin="miter" stroke-miterlimit="10"/>
<path d="M73.3 1327.7 C79.5 1322 97.7 1305.2 110.2 1293.3 C122.7 1281.3 136.1 1268.6 148.2 1256 C160.3 1243.4 170.4 1230.7 182.6 1217.8 C194.8 1204.9 207.5 1192.4 221.3 1178.5 C235.1 1164.6 252.3 1148.2 265.5 1134.3 C278.7 1120.4 288.4 1107.9 300.5 1095 C312.6 1082.1 325.5 1069.8 338.3 1056.7 C351.1 1043.6 366.6 1028.1 377.4 1016.6 C388.2 1005.1 392.8 999.3 403.3 987.5 C413.8 975.7 426.6 960.1 440.2 945.6 C453.8 931.1 471.8 914.8 485.2 900.6 C498.6 886.4 508.9 873.9 520.7 860.5 C532.5 847.1 543.7 833.1 556.2 820 C568.7 806.9 584.1 793.2 595.7 781.9 C607.3 770.5 614.6 762.3 625.8 751.9 C636.9 741.5 648.7 730.8 662.6 719.3 C676.5 707.8 694.9 693.3 709.2 682.6 C723.5 671.9 735 663.2 748.5 655.3 C762 647.4 776.4 639.9 790 635 C803.6 630.1 817.2 627.9 830 626 C842.8 624.1 854.5 622.8 867 623.5 C879.5 624.2 890.9 626.3 905 630 C919.1 633.7 935.1 638.5 951.5 645.5 C967.9 652.5 986.1 661.8 1003.3 671.8 C1020.5 681.8 1038.6 694.6 1054.6 705.2 C1070.6 715.8 1080.3 721.2 1099.4 735.2 C1118.5 749.2 1151.1 775.1 1169.3 789.2 C1187.5 803.3 1194 808.4 1208.6 820 C1223.2 831.6 1242.4 847.1 1257 859 C1271.6 870.9 1282.2 880.6 1296 891.5 C1309.8 902.4 1324.8 912.8 1339.5 924.5 C1354.2 936.2 1371.5 951 1384.4 961.5 C1397.4 972 1405.2 977.4 1417.2 987.4 C1429.2 997.4 1442.7 1010.4 1456.5 1021.7 C1470.3 1033 1484.8 1043.5 1500 1055 C1515.2 1066.5 1531.2 1077.8 1548 1091 C1564.8 1104.2 1584.1 1120.8 1600.6 1134 C1617.1 1147.2 1634.8 1161.2 1647.1 1170.5 C1659.3 1179.8 1662.1 1181.2 1674.1 1190 C1686.1 1198.8 1705.1 1212.4 1719.1 1223.6 C1733.1 1234.8 1743.7 1246.1 1758.1 1257 C1772.5 1267.9 1790.2 1278.3 1805.5 1289 C1820.8 1299.7 1842.3 1315.8 1849.7 1321.1" fill="none" stroke="#111" stroke-width="2.4"/>
<path d="M73.3 1387.8L118.8 1408.7 M73.3 1333.8L155.6 1370.7 M110.2 1293.3L194.9 1331.4 M148.2 1256.5L231.7 1292.1 M182.6 1218.4L196.1 1273.7 M220.7 1179.1L242.8 1281 M264.9 1134.9L285.7 1234.4 M300.5 1095.6L322.6 1196.3 M300.5 1095.6L384 1130 M315.2 1155.8L348.4 1169.3 M339.2 1055L422.4 1090.3 M377.4 1016.6L460.6 1052.1 M403.3 986.5L412.9 1031.6 M440.2 945.6L462 1049.3 M485.2 900.6L507 1000.2 M520.7 861L542.5 962 M520.7 861L604 897.9 M534.3 922.4L567 936 M556.2 820L644.9 859.7 M595.7 781.9L685.8 821.5 M625.8 751.9L634 795.5 M662.6 719.3L685.8 821.5 M709.2 682.6L732.1 789.6 M748.5 655.3L772.5 766.7 M761.6 712.1L838 626.5 M786.7 761.2L899.1 629 M863.1 749.2L951.5 645.5 M925.3 759L1003.3 671.8 M960.5 720L960.8 774.3 M1003.3 672.4L1003.3 798 M1054.6 706.2L1054.6 830.7 M1099.4 735.7L1100.5 860.2 M1100.5 811L1169.3 789.2 M1100.5 858L1208.6 820.5 M1149.6 897.3L1259.4 860.5 M1191.1 930L1296.5 892.3 M1236.5 912L1233.2 963.4 M1290 895.7L1280.1 1000.5 M1339 925.2L1329.3 1038.7 M1384.9 962.3L1376.2 1076.9 M1383.8 1009.2L1417.7 988.5 M1376.2 1074.7L1457 1022.3 M1414.4 1108.6L1500 1056 M1456.5 1144L1548 1091 M1500 1115.5L1495.5 1174 M1552.5 1093L1542 1210 M1600.6 1135L1591.6 1247.6 M1647.1 1171L1638.1 1286.6 M1647.1 1208.6L1674.1 1191 M1639.6 1271.6L1719.1 1223.6 M1672.6 1310.6L1758.1 1257.5 M1714.6 1345.1L1804.6 1289.6 M1756.6 1319.6L1753.6 1373.7 M1807.6 1291.1L1800.1 1408.2" fill="none" stroke="#111" stroke-width="2.7"/>
<path d="M936 432 C960 420 990 408 1036 404" fill="none" stroke="#a50000" stroke-width="8" stroke-linecap="butt"/>
<path d="M1035.5 386 L1082.5 404.3 L1034.8 419 Z" fill="#a50000"/>
<path d="M952.5 504.5 C990 501 1030 502 1058 508" fill="none" stroke="#a50000" stroke-width="7"/>
<path d="M1062.6 489.4 L1098.6 521.9 L1051 521.9 Z" fill="#a50000"/>
<text x="1128.5" y="243.5" font-family="Liberation Sans, sans-serif" font-weight="bold" font-size="47.5" fill="#111" stroke="#111" stroke-width="1.6" textLength="151" lengthAdjust="spacing">ROOF</text>
<text x="1350" y="424.5" font-family="Liberation Sans, sans-serif" font-weight="bold" font-size="48" fill="#111" stroke="#111" stroke-width="1.6" textLength="143.5" lengthAdjust="spacing">FACE</text>
<text x="330" y="694" font-family="Liberation Sans, sans-serif" font-weight="bold" font-size="47.5" fill="#111" stroke="#111" stroke-width="1.6" textLength="153" lengthAdjust="spacing">ROOT</text>
<text x="1396" y="775.5" font-family="Liberation Sans, sans-serif" font-weight="bold" font-size="46.5" fill="#111" stroke="#111" stroke-width="1.6" textLength="181.5" lengthAdjust="spacing">SCARP</text>
<text x="757.5" y="810.5" font-family="Liberation Sans, sans-serif" font-weight="bold" font-size="46.5" fill="#999999" stroke="#999999" stroke-width="1.6" textLength="168" lengthAdjust="spacing">RIDGE</text>
<text x="758.5" y="852" font-family="Liberation Sans, sans-serif" font-weight="bold" font-size="46.5" fill="#999999" stroke="#999999" stroke-width="1.6" textLength="178" lengthAdjust="spacing">CREST</text>
<text x="244" y="495" font-family="Liberation Sans, sans-serif" font-weight="bold" font-size="37.5" fill="#a61111" stroke="#a61111" stroke-width="1.6" textLength="500.5" lengthAdjust="spacingAndGlyphs">Potential Fracture Zone</text>
</svg>
</body></html>
